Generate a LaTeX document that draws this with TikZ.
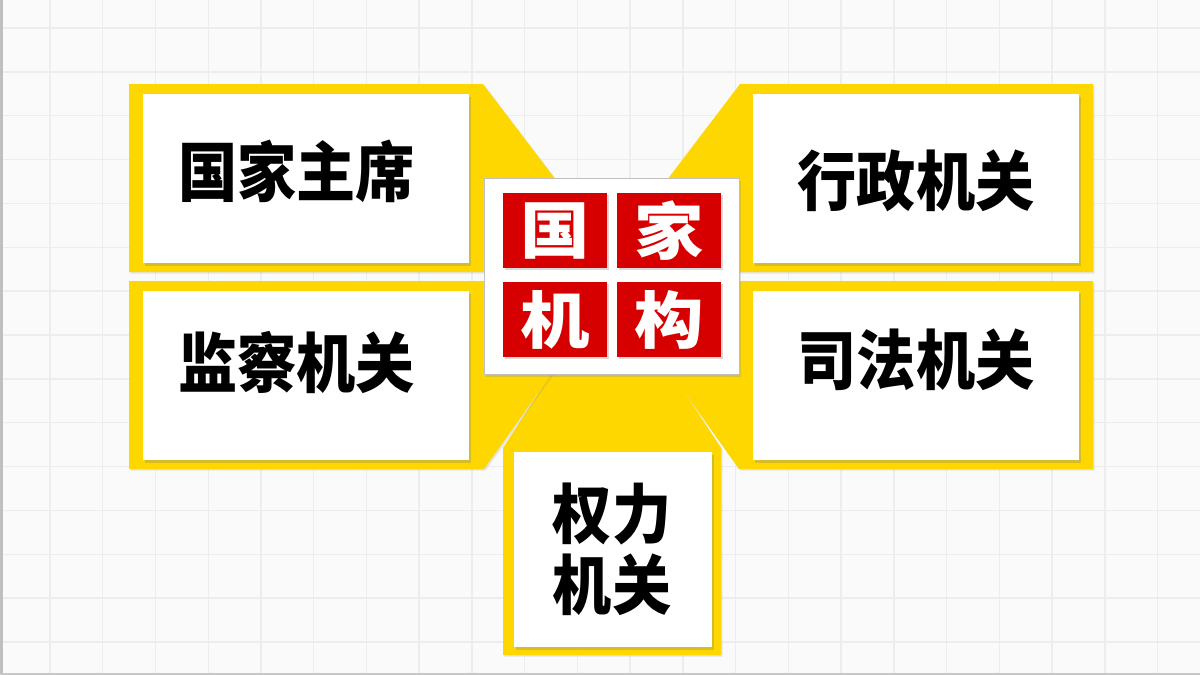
\documentclass[tikz,border=0pt]{standalone}
\usepackage{fontspec}
\newfontfamily\cjk{Noto Sans CJK SC}
\usetikzlibrary{shadows}
\definecolor{bgc}{RGB}{250,250,250}
\definecolor{gridc}{RGB}{237,237,241}
\definecolor{yel}{RGB}{255,215,0}
\definecolor{redc}{RGB}{214,0,0}
\definecolor{edgec}{RGB}{192,192,192}
\tikzset{
  gridline/.style={draw=gridc, line width=1.4pt},
  yellowshape/.style={fill=yel, drop shadow={shadow xshift=1.5pt, shadow yshift=-1.5pt, opacity=0.18}},
  whitebox/.style={fill=white, inner sep=0pt, drop shadow={shadow xshift=2pt, shadow yshift=-2.5pt, opacity=0.3}},
  centerbox/.style={fill=white, draw=edgec, line width=0.8pt, inner sep=0pt, drop shadow={shadow xshift=2pt, shadow yshift=-2.5pt, opacity=0.25}},
  redbox/.style={fill=redc, inner sep=0pt, minimum width=104pt, minimum height=75pt, drop shadow={shadow xshift=1.5pt, shadow yshift=-2pt, opacity=0.3}},
  redtext/.style={text=white, font=\cjk\bfseries\fontsize{62}{62}\selectfont, inner sep=0pt, xscale=1.12},
  blacktext/.style={text=black, font=\cjk\bfseries\fontsize{65}{72}\selectfont, inner sep=0pt, xscale=0.91, align=center}
}
\begin{document}
\begin{tikzpicture}[x=1pt,y=-1pt]
\useasboundingbox (0,0) rectangle (1200,675);
\fill[bgc] (0,0) rectangle (1200,675);
\foreach \i in {0,...,21} \draw[gridline] ({50+52.74*\i},0) -- ({50+52.74*\i},675);
\foreach \j in {0,...,14} \draw[gridline] (0,{28+43.86*\j}) -- (1200,{28+43.86*\j});
\fill[black!25] (0,0) rectangle (3.3,675);
\fill[black!22] (0,672.5) rectangle (1200,675);
% yellow shapes
\fill[yellowshape] (503,655) -- (503,448) -- (560,360) -- (663,360) -- (721,448) -- (721,655) -- cycle;
\fill[yellowshape] (129,84) -- (483,84) -- (626,272) -- (129,272) -- cycle;
\fill[yellowshape] (1093,84) -- (740,84) -- (597,272) -- (1093,272) -- cycle;
\fill[yellowshape] (129,281) -- (618,281) -- (484,469) -- (129,469) -- cycle;
\fill[yellowshape] (1093,281) -- (605,281) -- (739,469) -- (1093,469) -- cycle;
% white boxes
\node[whitebox, minimum width=326pt, minimum height=169pt] (tl) at (306,178.5) {};
\node[whitebox, minimum width=326pt, minimum height=169pt] (bl) at (306,375.5) {};
\node[whitebox, minimum width=326pt, minimum height=169pt] (tr) at (916,178.5) {};
\node[whitebox, minimum width=326pt, minimum height=169pt] (br) at (916,375.5) {};
\node[whitebox, minimum width=198pt, minimum height=195pt] (bt) at (613,549.5) {};
% centre
\node[centerbox, minimum width=255pt, minimum height=196pt] (c) at (611.5,276) {};
\node[redbox] (r1) at (555,230.5) {};
\node[redbox] (r2) at (669,230.5) {};
\node[redbox] (r3) at (555,319.5) {};
\node[redbox] (r4) at (669,319.5) {};
\node[redtext] (t1) at (r1.center) {国};
\node[redtext] (t2) at (r2.center) {家};
\node[redtext] (t3) at (r3.center) {机};
\node[redtext] (t4) at (r4.center) {构};
% labels
\node[blacktext] (ltl) at (296.5,171.5) {国家主席};
\node[blacktext] (lbl) at (296.5,362) {监察机关};
\node[blacktext] (ltr) at (916,181) {行政机关};
\node[blacktext] (lbr) at (916,360) {司法机关};
\node[blacktext] (lbt1) at (612,513.5) {权力};
\node[blacktext] (lbt2) at (612,585) {机关};
\end{tikzpicture}
\end{document}
